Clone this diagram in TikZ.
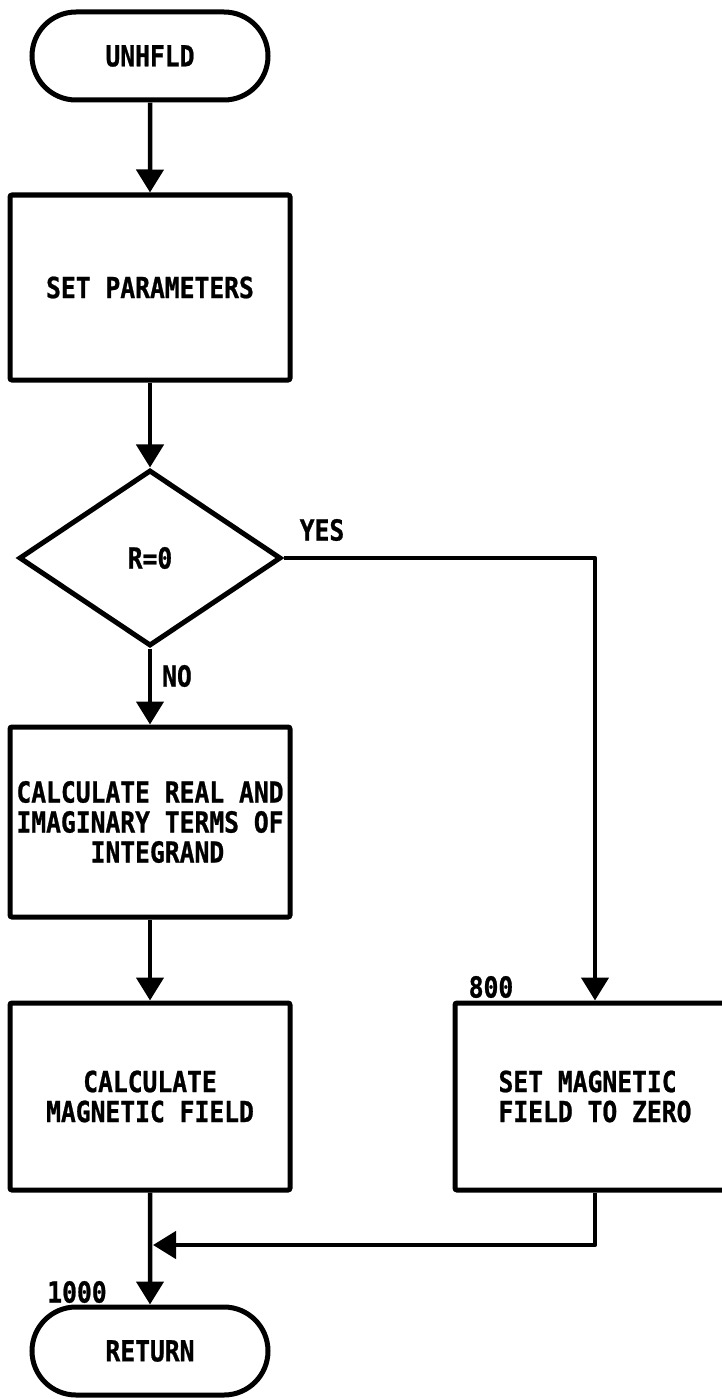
\documentclass[tikz,border=0pt]{standalone}
\usepackage{fontspec}
\newfontfamily\lbl{DejaVu Sans Mono}[FakeStretch=0.85,FakeBold=0.8]
\usetikzlibrary{arrows.meta,shapes.geometric,shapes.misc}
\begin{document}
\begin{tikzpicture}[x=1pt,y=-1pt,
  every node/.style={font=\lbl\bfseries\fontsize{29}{30}\selectfont, inner sep=0pt},
  procbox/.style={draw, line width=5pt, minimum width=280pt, rounded corners=2pt},
  term/.style={draw, rounded rectangle, line width=5pt, minimum width=236pt, minimum height=88pt},
  decide/.style={draw, diamond, line width=5pt, minimum width=262pt, minimum height=176pt},
  flow/.style={line width=4.5pt, -{Triangle[width=27pt,length=23pt]}}
]
\useasboundingbox (0,0) rectangle (722,1399);
\clip (0,0) rectangle (722,1399);

\node[term] (start) at (150,56) {UNHFLD};
\node[procbox, minimum height=185pt] (box1) at (150,287.5) {SET PARAMETERS};
\node[decide] (dec) at (150,558) {R=0};
\node[procbox, minimum height=190pt, align=left] (box2) at (150,822)
  {CALCULATE REAL AND\\IMAGINARY TERMS OF\\\phantom{XXXXX}INTEGRAND};
\node[procbox, minimum height=187pt, align=center] (box3) at (150,1096.5)
  {CALCULATE\\MAGNETIC FIELD};
\node[procbox, minimum height=187pt, align=left] (box4) at (595,1096.5)
  {SET MAGNETIC\\FIELD TO ZERO};
\node[term] (ret) at (150,1351) {RETURN};

\node (yes) at (322,530) {YES};
\node (no) at (177,676) {NO};
\node (l800) at (491,987) {800};
\node (l1000) at (77,1292) {1000};

\coordinate (merge) at (153,1245);

\draw[flow] (start) -- (box1);
\draw[flow] (box1) -- (dec);
\draw[flow] (dec.south) -- (box2);
\draw[flow] (box2) -- (box3);
\draw[flow] (box3) -- (ret);
\draw[flow, line join=round] (dec.east) -| (box4.north);
\draw[flow, line join=round] (box4.south) |- (merge);
\end{tikzpicture}
\end{document}
